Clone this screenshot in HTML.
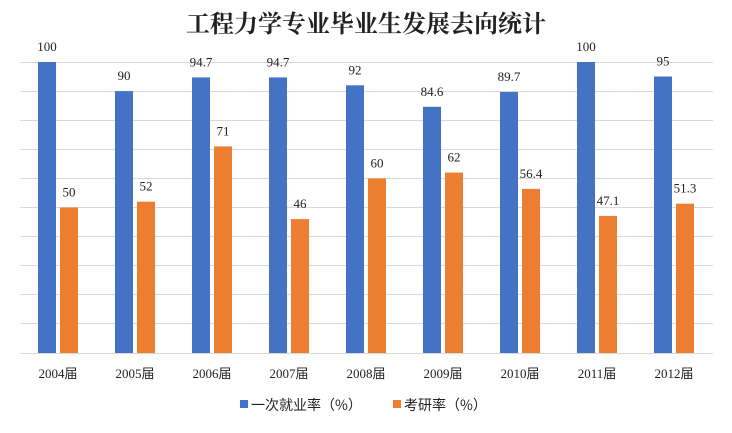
<!DOCTYPE html>
<html><head><meta charset="utf-8"><style>
body{margin:0;background:#fff;}
svg text{font-family:"Liberation Serif","Noto Serif CJK SC",serif;fill:#222;}
.c{font-family:"Noto Sans CJK SC",sans-serif;}
</style></head><body>
<svg width="732" height="428" xmlns="http://www.w3.org/2000/svg">
<rect width="732" height="428" fill="#fff"/>
<text x="366" y="32" text-anchor="middle" font-size="24" font-weight="bold" style="font-family:'Noto Serif CJK SC',serif">工程力学专业毕业生发展去向统计</text>
<g stroke="#d9d9d9" stroke-width="1">
<line x1="20" x2="713" y1="62.5" y2="62.5"/><line x1="20" x2="713" y1="91.5" y2="91.5"/>
<line x1="20" x2="713" y1="120.5" y2="120.5"/><line x1="20" x2="713" y1="149.5" y2="149.5"/>
<line x1="20" x2="713" y1="178.5" y2="178.5"/><line x1="20" x2="713" y1="207.5" y2="207.5"/>
<line x1="20" x2="713" y1="236.5" y2="236.5"/><line x1="20" x2="713" y1="265.5" y2="265.5"/>
<line x1="20" x2="713" y1="294.5" y2="294.5"/><line x1="20" x2="713" y1="323.5" y2="323.5"/>
<line x1="20" x2="713" y1="353.5" y2="353.5"/>
</g>
<g fill="#4472c4">
<rect x="38" y="62" width="18" height="291"/>
<rect x="115" y="91.1" width="18" height="261.9"/>
<rect x="192" y="77.4" width="18" height="275.6"/>
<rect x="269" y="77.4" width="18" height="275.6"/>
<rect x="346" y="85.3" width="18" height="267.7"/>
<rect x="423" y="106.8" width="18" height="246.2"/>
<rect x="500" y="92" width="18" height="261"/>
<rect x="577" y="62" width="18" height="291"/>
<rect x="654" y="76.5" width="18" height="276.5"/>
</g>
<g fill="#ed7d31">
<rect x="60" y="207.5" width="18" height="145.5"/>
<rect x="137" y="201.7" width="18" height="151.3"/>
<rect x="214" y="146.4" width="18" height="206.6"/>
<rect x="291" y="219.1" width="18" height="133.9"/>
<rect x="368" y="178.4" width="18" height="174.6"/>
<rect x="445" y="172.6" width="18" height="180.4"/>
<rect x="522" y="188.9" width="18" height="164.1"/>
<rect x="599" y="215.9" width="18" height="137.1"/>
<rect x="676" y="203.7" width="18" height="149.3"/>
</g>
<g font-size="13" text-anchor="middle">
<text x="47" y="51">100</text><text x="69" y="196.5">50</text>
<text x="124" y="80">90</text><text x="146" y="190.7">52</text>
<text x="201" y="66.4">94.7</text><text x="223" y="135.4">71</text>
<text x="278" y="66.4">94.7</text><text x="300" y="208.1">46</text>
<text x="355" y="74.3">92</text><text x="377" y="167.4">60</text>
<text x="432" y="95.8">84.6</text><text x="454" y="161.6">62</text>
<text x="509" y="81">89.7</text><text x="531" y="177.9">56.4</text>
<text x="586" y="51">100</text><text x="608" y="204.9">47.1</text>
<text x="663" y="65.5">95</text><text x="685" y="192.7">51.3</text>
<text x="58" y="378">2004<tspan class="c">届</tspan></text>
<text x="135" y="378">2005<tspan class="c">届</tspan></text>
<text x="212" y="378">2006<tspan class="c">届</tspan></text>
<text x="289" y="378">2007<tspan class="c">届</tspan></text>
<text x="366" y="378">2008<tspan class="c">届</tspan></text>
<text x="443" y="378">2009<tspan class="c">届</tspan></text>
<text x="520" y="378">2010<tspan class="c">届</tspan></text>
<text x="597" y="378">2011<tspan class="c">届</tspan></text>
<text x="674" y="378">2012<tspan class="c">届</tspan></text>
</g>
<rect x="240" y="400" width="8" height="8" fill="#4472c4"/>
<text x="251" y="410" font-size="14" class="c">一次就业率（%）</text>
<rect x="393" y="400" width="8" height="8" fill="#ed7d31"/>
<text x="404" y="410" font-size="14" class="c">考研率（%）</text>
</svg>
</body></html>
